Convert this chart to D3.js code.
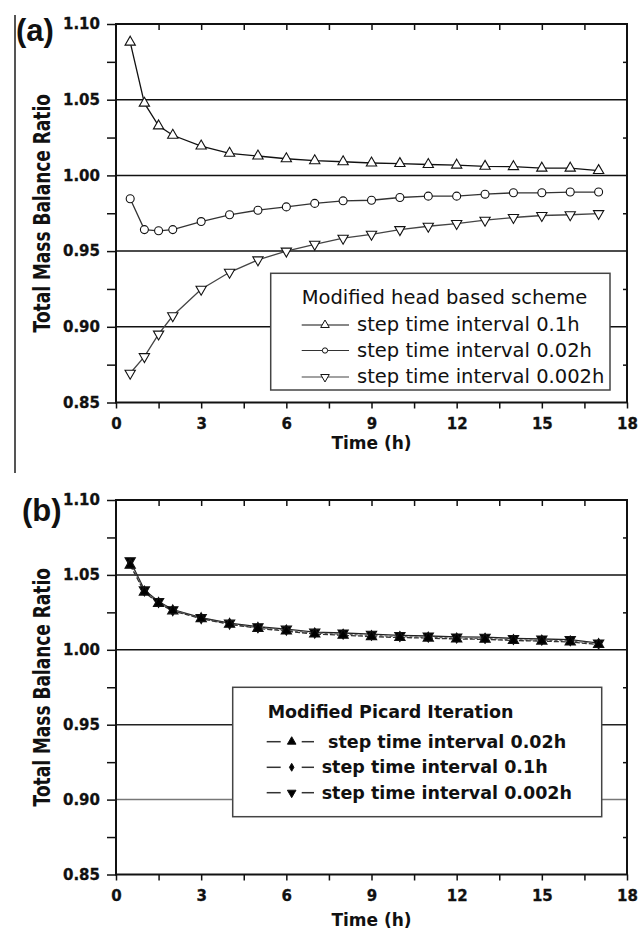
<!DOCTYPE html>
<html>
<head>
<meta charset="utf-8">
<script src="https://cdn.jsdelivr.net/npm/d3@7"></script>
<style>
  body { margin: 0; background: #fff; }
  svg text { font-family: "DejaVu Sans", sans-serif; fill: #111; }
</style>
</head>
<body>
<svg id="chart" width="638" height="929"></svg>
<script>
// time steps (h)
const times = [0.5, 1, 1.5, 2, 3, 4, 5, 6, 7, 8, 9, 10, 11, 12, 13, 14, 15, 16, 17];

// (a) modified head based scheme
const headStep01 = [1.088, 1.0477, 1.0327, 1.0265, 1.0194, 1.0146, 1.0128, 1.011, 1.0097, 1.009, 1.0082, 1.0078, 1.0072, 1.0068, 1.006, 1.0058, 1.0048, 1.0048, 1.0032];
const headStep002 = [0.9846, 0.9642, 0.9634, 0.9642, 0.9695, 0.974, 0.977, 0.9792, 0.9815, 0.9832, 0.9836, 0.9854, 0.9863, 0.9863, 0.9876, 0.9885, 0.9885, 0.989, 0.989];
const headStep0002 = [0.8693, 0.8803, 0.8952, 0.9073, 0.9248, 0.936, 0.9442, 0.95, 0.9545, 0.9585, 0.9611, 0.9642, 0.9664, 0.9682, 0.9704, 0.9722, 0.9735, 0.974, 0.9748];

// (b) modified Picard iteration
const picardStep002 = [1.0565, 1.0385, 1.031, 1.026, 1.0208, 1.017, 1.0143, 1.0125, 1.0105, 1.0097, 1.0088, 1.0082, 1.0078, 1.0072, 1.007, 1.0062, 1.0058, 1.0052, 1.0035];
const picardStep01 = [1.058, 1.0392, 1.0316, 1.0264, 1.021, 1.0172, 1.0148, 1.0132, 1.0112, 1.0104, 1.0096, 1.0088, 1.0084, 1.0078, 1.0076, 1.0068, 1.0064, 1.006, 1.004];
const picardStep0002 = [1.0595, 1.04, 1.0322, 1.0268, 1.0215, 1.0178, 1.0154, 1.0138, 1.0118, 1.0112, 1.0104, 1.0096, 1.0092, 1.0086, 1.0084, 1.0076, 1.0072, 1.0068, 1.0045];

// axes
const xTicks = [0, 3, 6, 9, 12, 15, 18];
const xMinorTicks = [0, 1.5, 3, 4.5, 6, 7.5, 9, 10.5, 12, 13.5, 15, 16.5, 18];
const yTicks = [0.85, 0.90, 0.95, 1.00, 1.05, 1.10];
const yMinorTicks = [0.875, 0.925, 0.975, 1.025, 1.075];
const gridValues = [0.90, 0.95, 1.00, 1.05];

// legends
const headTitle = "Modified head based scheme";
const headLabels = ["step time interval 0.1h", "step time interval 0.02h", "step time interval 0.002h"];
const picardTitle = "Modified Picard Iteration";
const picardLabels = ["step time interval 0.02h", "step time interval 0.1h", "step time interval 0.002h"];

const svg = d3.select("#chart");

// stray frame line on the left of panel (a)
svg.append("line")
  .attr("x1", 15).attr("x2", 15).attr("y1", 15).attr("y2", 473)
  .attr("stroke", "#555").attr("stroke-width", 2);

const panels = [
  {
    top: 24, bottom: 402.5, tag: "(a)", tagX: 16, tagY: 40.5, xTitleY: 449,
    gridColors: ["#111", "#111", "#111", "#111"],
    series: [
      { values: headStep01, symbol: d3.symbolTriangle, rotate: 0, size: 46, fill: "#fff", line: "#111", dash: null },
      { values: headStep002, symbol: d3.symbolCircle, rotate: 0, size: 50, fill: "#fff", line: "#333", dash: null },
      { values: headStep0002, symbol: d3.symbolTriangle, rotate: 180, size: 46, fill: "#fff", line: "#444", dash: null }
    ],
    drawOrder: [2, 1, 0],
    legend: {
      x: 270.7, y: 273.3, w: 339.3, h: 116.7, title: headTitle, labels: headLabels,
      titleX: 301.7, titleY: 304, weight: "normal", size: 19.5,
      lineY: [325, 350.5, 377], textX: [357, 357, 357], x1: 301.7, x2: 349, mx: 325, gap: 0,
      symSize: [32, 22, 32]
    }
  },
  {
    top: 500, bottom: 874.5, tag: "(b)", tagX: 22, tagY: 520.5, xTitleY: 926,
    gridColors: ["#777", "#222", "#111", "#111"],
    series: [
      { values: picardStep002, symbol: d3.symbolTriangle, rotate: 0, size: 46, fill: "#000", line: "#333", dash: "5,2" },
      { values: picardStep01, symbol: d3.symbolDiamond, rotate: 0, size: 22, fill: "#000", line: "#666", dash: "3,2" },
      { values: picardStep0002, symbol: d3.symbolTriangle, rotate: 180, size: 46, fill: "#000", line: "#222", dash: null }
    ],
    drawOrder: [2, 1, 0],
    legend: {
      x: 232.7, y: 687.3, w: 369, h: 129.4, title: picardTitle, labels: picardLabels,
      titleX: 267.7, titleY: 718, weight: "bold", size: 17.5,
      lineY: [741.7, 767.3, 792.7], textX: [328, 321.7, 321.7], x1: 266.7, x2: 314, mx: 291.7, gap: 8,
      symSize: [32, 18, 32]
    }
  }
];

panels.forEach(p => {
  const x = d3.scaleLinear().domain([0, 18]).range([116, 627]);
  const y = d3.scaleLinear().domain([0.85, 1.10]).range([p.bottom, p.top]);
  const g = svg.append("g");

  // horizontal gridlines
  g.selectAll(".grid").data(gridValues).enter().append("line")
    .attr("x1", x(0)).attr("x2", x(18))
    .attr("y1", d => y(d)).attr("y2", d => y(d))
    .attr("stroke", (d, i) => p.gridColors[i]).attr("stroke-width", 1.5);

  const styleAxis = sel => {
    sel.select(".domain").remove();
    sel.selectAll("line").attr("stroke", "#111").attr("stroke-width", 1.5);
    sel.selectAll("text")
      .style("font-family", "'DejaVu Sans', sans-serif")
      .style("font-weight", "bold").style("font-size", "15px")
      .attr("fill", "#111").attr("stroke", "#111").attr("stroke-width", 0.3);
  };

  // left axis: labels + major ticks, minor ticks
  g.append("g").attr("transform", `translate(${x(0)},0)`)
    .call(d3.axisLeft(y).tickValues(yTicks).tickFormat(d3.format(".2f")).tickSize(9).tickPadding(7))
    .call(styleAxis);
  g.append("g").attr("transform", `translate(${x(0)},0)`)
    .call(d3.axisLeft(y).tickValues(yMinorTicks).tickFormat("").tickSize(9))
    .call(styleAxis);

  // right axis: short inward ticks
  g.append("g").attr("transform", `translate(${x(18)},0)`)
    .call(d3.axisRight(y).tickValues(yMinorTicks).tickFormat("").tickSize(-4))
    .call(styleAxis);

  // top axis: inward ticks
  g.append("g").attr("transform", `translate(0,${p.top})`)
    .call(d3.axisTop(x).tickValues(xMinorTicks.slice(1, -1)).tickFormat("").tickSize(-6))
    .call(styleAxis);

  // bottom axis: outward ticks + labels
  g.append("g").attr("transform", `translate(0,${p.bottom})`)
    .call(d3.axisBottom(x).tickValues(xMinorTicks).tickFormat("").tickSize(6))
    .call(styleAxis);
  g.append("g").attr("transform", `translate(0,${p.bottom})`)
    .call(d3.axisBottom(x).tickValues(xTicks).tickFormat(d3.format("d")).tickSize(0).tickPadding(15.5))
    .call(styleAxis);

  // plot frame
  g.append("rect")
    .attr("x", x(0)).attr("y", p.top)
    .attr("width", x(18) - x(0)).attr("height", p.bottom - p.top)
    .attr("fill", "none").attr("stroke", "#111").attr("stroke-width", 2);

  // axis titles
  g.append("text")
    .attr("transform", `translate(50,${(p.top + p.bottom) / 2}) rotate(-90) scale(1,1.3)`)
    .attr("text-anchor", "middle")
    .style("font-weight", "bold").style("font-size", "17px")
    .text("Total Mass Balance Ratio");
  g.append("text")
    .attr("x", x(9)).attr("y", p.xTitleY)
    .attr("text-anchor", "middle")
    .style("font-weight", "bold").style("font-size", "17px")
    .text("Time (h)");

  // panel tag
  g.append("text")
    .attr("x", p.tagX).attr("y", p.tagY)
    .style("font-family", "'Liberation Sans', Arial, sans-serif")
    .style("font-weight", "bold").style("font-size", "31px")
    .text(p.tag);

  // series
  const line = d3.line().x((d, i) => x(times[i])).y(d => y(d));
  p.drawOrder.forEach(k => {
    const s = p.series[k];
    g.append("path").datum(s.values)
      .attr("d", line).attr("fill", "none")
      .attr("stroke", s.line).attr("stroke-width", 1.3)
      .attr("stroke-dasharray", s.dash);
  });
  p.drawOrder.forEach(k => {
    const s = p.series[k];
    g.selectAll(null).data(s.values).enter().append("path")
      .attr("d", d3.symbol().type(s.symbol).size(s.size))
      .attr("transform", (d, i) => `translate(${x(times[i])},${y(d)}) rotate(${s.rotate})`)
      .attr("fill", s.fill).attr("stroke", "#111").attr("stroke-width", 1.1);
  });

  // legend
  const L = p.legend;
  const lg = g.append("g");
  lg.append("rect")
    .attr("x", L.x).attr("y", L.y).attr("width", L.w).attr("height", L.h)
    .attr("fill", "#fff").attr("stroke", "#444").attr("stroke-width", 1.5);
  lg.append("text")
    .attr("x", L.titleX).attr("y", L.titleY)
    .style("font-weight", L.weight).style("font-size", L.size + "px")
    .text(L.title);
  L.labels.forEach((lab, i) => {
    const s = p.series[i];
    const ly = L.lineY[i];
    if (L.gap > 0) {
      lg.append("line").attr("x1", L.x1).attr("x2", L.mx - L.gap - 3).attr("y1", ly).attr("y2", ly)
        .attr("stroke", "#333").attr("stroke-width", 1.5);
      lg.append("line").attr("x1", L.mx + L.gap + 2).attr("x2", L.x2).attr("y1", ly).attr("y2", ly)
        .attr("stroke", "#333").attr("stroke-width", 1.5);
    } else {
      lg.append("line").attr("x1", L.x1).attr("x2", L.x2).attr("y1", ly).attr("y2", ly)
        .attr("stroke", s.line).attr("stroke-width", 1.2);
    }
    lg.append("path")
      .attr("d", d3.symbol().type(s.symbol).size(L.symSize[i]))
      .attr("transform", `translate(${L.mx},${ly}) rotate(${s.rotate})`)
      .attr("fill", s.fill).attr("stroke", "#111").attr("stroke-width", 1);
    lg.append("text")
      .attr("x", L.textX[i]).attr("y", ly + 6)
      .style("font-weight", L.weight).style("font-size", L.size + "px")
      .text(lab);
  });
});
</script>
</body>
</html>
